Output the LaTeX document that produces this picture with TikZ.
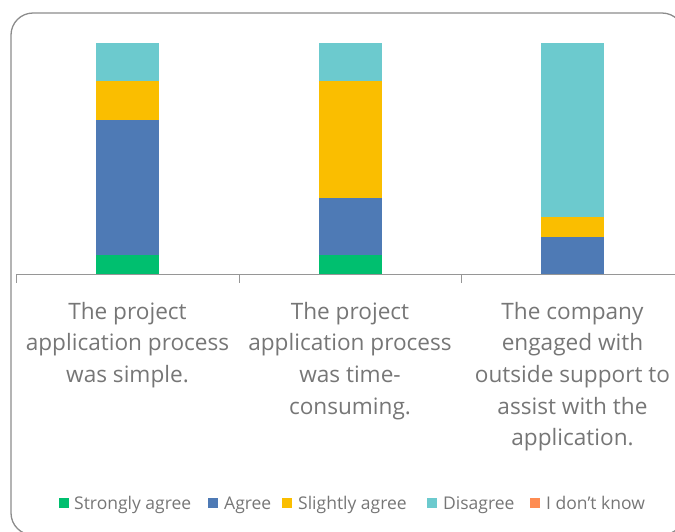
\documentclass[tikz,border=0pt]{standalone}
\usepackage{fontspec}
\setmainfont{Open Sans}
\definecolor{csa}{RGB}{0,191,111}
\definecolor{cag}{RGB}{78,122,181}
\definecolor{csl}{RGB}{250,190,0}
\definecolor{cdi}{RGB}{108,202,206}
\definecolor{cdk}{RGB}{254,140,82}
\definecolor{ctext}{RGB}{118,118,118}
\definecolor{cframe}{RGB}{140,140,140}
\definecolor{caxis}{RGB}{150,150,150}
\begin{document}
\begin{tikzpicture}[x=1pt,y=-1pt,
  catlabel/.style={anchor=north, inner sep=0pt, align=center, text=ctext,
    font=\fontsize{22.6}{31.6}\selectfont},
  legsq/.style={minimum size=10pt, inner sep=0pt, draw=none},
  legtx/.style={anchor=base west, inner sep=0pt, text=ctext,
    font=\fontsize{17.5}{20}\selectfont},
  axisln/.style={draw=caxis, line width=1pt}]
\useasboundingbox (0,0) rectangle (675,531);
\begin{scope}
  \clip (0,0) rectangle (675,531);
  \draw[cframe, line width=1.3pt, rounded corners=22pt] (11,13) rectangle (684,535);
\end{scope}
% bar 1
\fill[cdi] (96,43) rectangle (159,81);
\fill[csl] (96,81) rectangle (159,120);
\fill[cag] (96,120) rectangle (159,255);
\fill[csa] (96,255) rectangle (159,274);
% bar 2
\fill[cdi] (319,43) rectangle (382,81);
\fill[csl] (319,81) rectangle (382,198);
\fill[cag] (319,198) rectangle (382,255);
\fill[csa] (319,255) rectangle (382,274);
% bar 3
\fill[cdi] (541,43) rectangle (604,217);
\fill[csl] (541,217) rectangle (604,237);
\fill[cag] (541,237) rectangle (604,274);
% axis
\coordinate (a0) at (16,274);
\coordinate (a1) at (239,274);
\coordinate (a2) at (461,274);
\coordinate (a3) at (675,274);
\coordinate (t0) at (16,283);
\coordinate (t1) at (239,283);
\coordinate (t2) at (461,283);
\draw[axisln] (a0) -- (a3);
\draw[axisln] (a0) -- (t0);
\draw[axisln] (a1) -- (t1);
\draw[axisln] (a2) -- (t2);
% category labels
\node[catlabel] (c1) at (127.5,302) {The project\\application process\\was simple.};
\node[catlabel] (c2) at (350,302) {The project\\application process\\was time-\\consuming.};
\node[catlabel] (c3) at (572.5,302) {The company\\engaged with\\outside support to\\assist with the\\application.};
% legend
\node[legsq, fill=csa] (s1) at (63.5,503) {};
\node[legtx] (l1) at (74,509) {Strongly agree};
\node[legsq, fill=cag] (s2) at (213,503) {};
\node[legtx] (l2) at (224,509) {Agree};
\node[legsq, fill=csl] (s3) at (287,503) {};
\node[legtx] (l3) at (298,509) {Slightly agree};
\node[legsq, fill=cdi] (s4) at (432,503) {};
\node[legtx] (l4) at (443,509) {Disagree};
\node[legsq, fill=cdk] (s5) at (535,503) {};
\node[legtx] (l5) at (546,509) {I don{\char"0027}t know};
\end{tikzpicture}
\end{document}
